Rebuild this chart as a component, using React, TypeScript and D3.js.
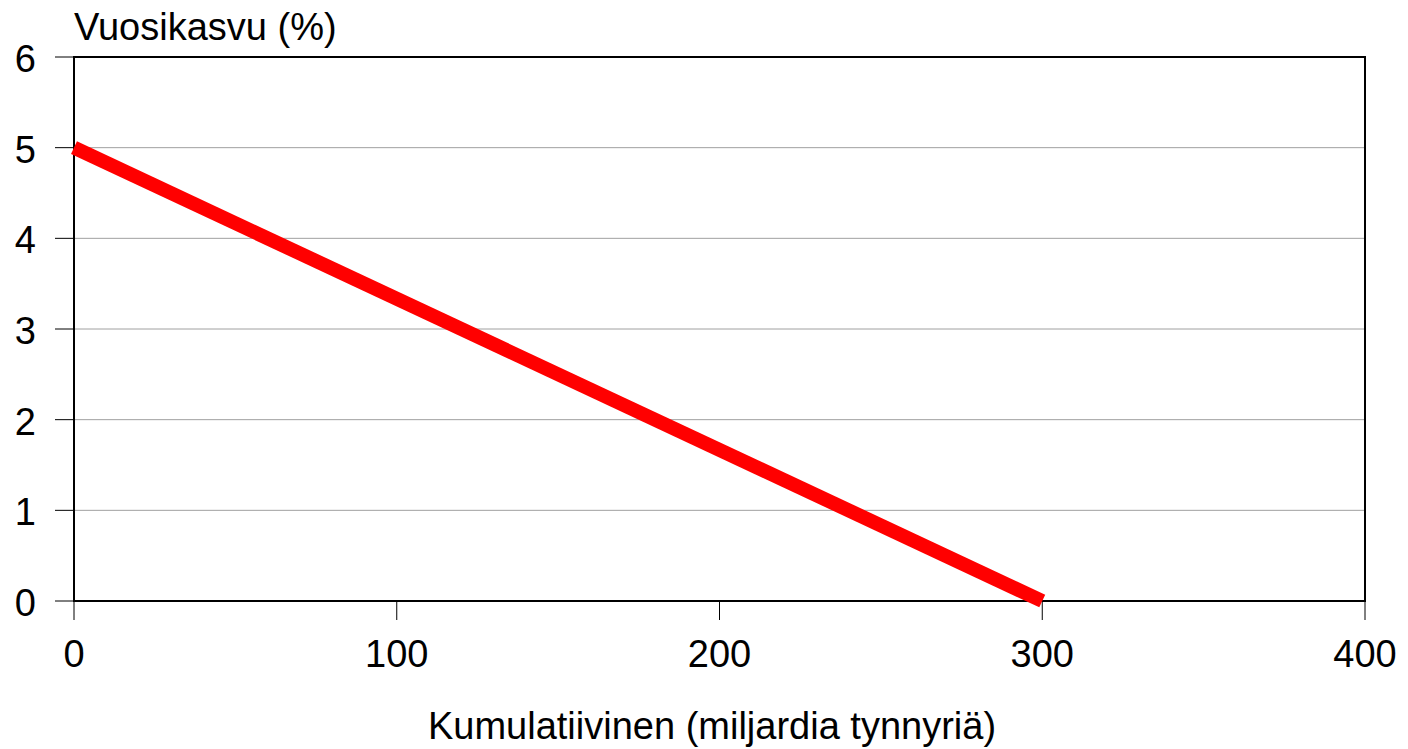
import React from "react";
import * as d3 from "d3";

const xTicks = [0, 100, 200, 300, 400];
const yTicks = [0, 1, 2, 3, 4, 5, 6];
const cumulative = [0, 300];
const growth = [5, 0];
const yTitle = "Vuosikasvu (%)";
const xTitle = "Kumulatiivinen (miljardia tynnyriä)";

export default function App() {
  const W = 1408, H = 749;
  const left = 74, right = 1365, top = 57, bottom = 601;
  const x = d3.scaleLinear().domain([0, 400]).range([left, right]);
  const y = d3.scaleLinear().domain([0, 6]).range([bottom, top]);
  const line = d3.line<number>().x((_, i) => x(cumulative[i])).y((d) => y(d));
  const font = "'Liberation Sans', Arial, sans-serif";
  return (
    <svg width={W} height={H} style={{ position: "absolute", left: 0, top: 0, background: "#fff" }} fontFamily={font}>
      <rect x={0} y={0} width={W} height={H} fill="#fff" />
      {yTicks.filter((t) => t > 0 && t < 6).map((t) => (
        <line key={"g" + t} x1={left} x2={right} y1={y(t)} y2={y(t)} stroke="#a0a0a0" strokeWidth={1} />
      ))}
      {yTicks.map((t) => (
        <g key={"y" + t}>
          <line x1={55} x2={left} y1={y(t)} y2={y(t)} stroke="#000" strokeWidth={1} />
          <text x={36} y={y(t) + 15} textAnchor="end" fontSize={38}>{t}</text>
        </g>
      ))}
      {xTicks.map((t) => (
        <g key={"x" + t}>
          <line x1={x(t)} x2={x(t)} y1={bottom} y2={620} stroke="#000" strokeWidth={1} />
          <text x={x(t)} y={667} textAnchor="middle" fontSize={38}>{t}</text>
        </g>
      ))}
      <rect x={left} y={top} width={right - left} height={bottom - top} fill="none" stroke="#000" strokeWidth={2} />
      <path d={line(growth) || ""} fill="none" stroke="#ff0000" strokeWidth={14} strokeLinecap="butt" />
      <text x={74} y={40} fontSize={38}>{yTitle}</text>
      <text x={712} y={739} textAnchor="middle" fontSize={38}>{xTitle}</text>
    </svg>
  );
}
